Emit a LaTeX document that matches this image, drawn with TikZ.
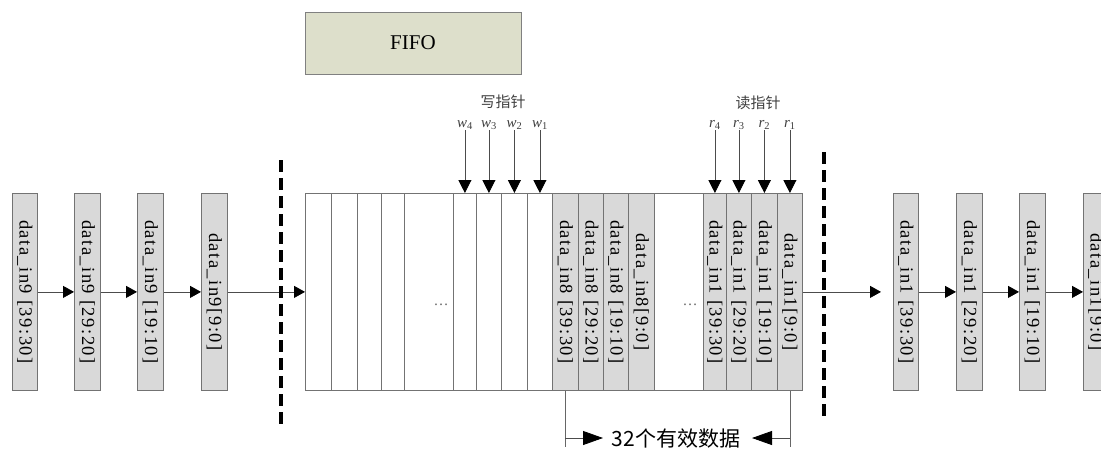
\documentclass[tikz,border=0pt]{standalone}
\usepackage{fontspec}
\usepackage{graphicx}
\setmainfont{Liberation Serif}
\newfontfamily\cjk{Noto Sans CJK SC}
\newfontfamily\cellfont{Liberation Serif}[LetterSpace=8]
\usetikzlibrary{arrows.meta}
\newcommand\vt[1]{\rotatebox{-90}{\cellfont\fontsize{18.5}{18.5}\selectfont #1}}
\newcommand\cellnode[5]{\node[#4, minimum width={(#3-#2)*1pt}] (#1) at (#2,193) {#5};}
\begin{document}
\begin{tikzpicture}[x=1pt,y=-1pt,
  cellbase/.style={draw=black!55, line width=0.8pt, inner sep=0pt, minimum height=197pt, anchor=north west},
  gcell/.style={cellbase, fill=gray!30},
  wcell/.style={cellbase, fill=white},
  conn/.style={draw=black!70, line width=0.8pt, -{Triangle[length=11pt,width=12pt,color=black]}},
  ptr/.style={draw=black!70, line width=0.8pt, -{Triangle[length=13pt,width=13pt,color=black]}},
  big/.style={draw=black!70, line width=0.8pt, -{Triangle[length=20pt,width=14pt,color=black]}},
  thinline/.style={draw=black!60, line width=0.8pt},
  dashline/.style={draw=black, line width=3.2pt, dash pattern=on 12pt off 6pt},
  plabel/.style={inner sep=0pt, font=\fontsize{15}{15}\selectfont\itshape, text=black!75},
  ptitle/.style={inner sep=0pt, font=\cjk\fontsize{15}{15}\selectfont, text=black!75},
  dots/.style={inner sep=0pt, font=\fontsize{15}{15}\selectfont, text=black!60}
]
\useasboundingbox (0,0) rectangle (1101,448);

% FIFO title
\node[draw=black!50, line width=0.8pt, fill={rgb,255:red,221;green,223;blue,203}, minimum width=216pt, minimum height=62pt, inner sep=0pt, font=\fontsize{21}{21}\selectfont] (fifo) at (413,43) {FIFO};

% left input boxes
\cellnode{L1}{12}{37}{gcell}{\vt{data\_in9 [39:30]}}
\cellnode{L2}{74}{100}{gcell}{\vt{data\_in9 [29:20]}}
\cellnode{L3}{137}{163}{gcell}{\vt{data\_in9 [19:10]}}
\cellnode{L4}{201}{227}{gcell}{\vt{data\_in9[9:0]}}

% FIFO cells
\cellnode{F1}{305}{331}{wcell}{}
\cellnode{F2}{331}{357}{wcell}{}
\cellnode{F3}{357}{381}{wcell}{}
\cellnode{F4}{381}{404}{wcell}{}
\cellnode{F5}{404}{453}{wcell}{}
\cellnode{F6}{453}{476}{wcell}{}
\cellnode{F7}{476}{501}{wcell}{}
\cellnode{F8}{501}{527}{wcell}{}
\cellnode{F9}{527}{552}{wcell}{}
\cellnode{G1}{552}{578}{gcell}{\vt{data\_in8 [39:30]}}
\cellnode{G2}{578}{603}{gcell}{\vt{data\_in8 [29:20]}}
\cellnode{G3}{603}{628}{gcell}{\vt{data\_in8 [19:10]}}
\cellnode{G4}{628}{654}{gcell}{\vt{data\_in8[9:0]}}
\cellnode{F10}{654}{703}{wcell}{}
\cellnode{G5}{703}{726}{gcell}{\vt{data\_in1 [39:30]}}
\cellnode{G6}{726}{751}{gcell}{\vt{data\_in1 [29:20]}}
\cellnode{G7}{751}{777}{gcell}{\vt{data\_in1 [19:10]}}
\cellnode{G8}{777}{802}{gcell}{\vt{data\_in1[9:0]}}

\node[dots] (dA) at (441,305) {\ldots};
\node[dots] (dB) at (690,305) {\ldots};

% right output boxes
\cellnode{R1}{893}{918}{gcell}{\vt{data\_in1 [39:30]}}
\cellnode{R2}{956}{982}{gcell}{\vt{data\_in1 [29:20]}}
\cellnode{R3}{1019}{1045}{gcell}{\vt{data\_in1 [19:10]}}
\cellnode{R4}{1083}{1108}{gcell}{\vt{data\_in1[9:0]}}

% chain arrows
\draw[conn] (L1) -- (L2);
\draw[conn] (L2) -- (L3);
\draw[conn] (L3) -- (L4);
\draw[conn] (L4) -- (F1);
\draw[conn, shorten >=12pt] (G8) -- (R1);
\draw[conn] (R1) -- (R2);
\draw[conn] (R2) -- (R3);
\draw[conn] (R3) -- (R4);

% dashed separators
\coordinate (d1t) at (281,160);
\coordinate (d1b) at (281,427);
\coordinate (d2t) at (824,152);
\coordinate (d2b) at (824,416);
\draw[dashline] (d1t) -- (d1b);
\draw[dashline] (d2t) -- (d2b);

% pointers
\coordinate (yl) at (0,123);
\node[ptitle] (wt) at (503,102) {写指针};
\node[ptitle] (rt) at (758,103) {读指针};
\node[plabel, anchor=base] (w4) at ([yshift=-4pt]F6.north |- yl) {w\textsubscript{\upshape 4}};
\node[plabel, anchor=base] (w3) at ([yshift=-4pt]F7.north |- yl) {w\textsubscript{\upshape 3}};
\node[plabel, anchor=base] (w2) at ([yshift=-4pt]F8.north |- yl) {w\textsubscript{\upshape 2}};
\node[plabel, anchor=base] (w1) at ([yshift=-4pt]F9.north |- yl) {w\textsubscript{\upshape 1}};
\node[plabel, anchor=base] (r4) at ([yshift=-4pt]G5.north |- yl) {r\textsubscript{\upshape 4}};
\node[plabel, anchor=base] (r3) at ([yshift=-4pt]G6.north |- yl) {r\textsubscript{\upshape 3}};
\node[plabel, anchor=base] (r2) at ([yshift=-4pt]G7.north |- yl) {r\textsubscript{\upshape 2}};
\node[plabel, anchor=base] (r1) at ([yshift=-4pt]G8.north |- yl) {r\textsubscript{\upshape 1}};
\coordinate (ys) at (0,130);
\foreach \c in {F6,F7,F8,F9,G5,G6,G7,G8}
  \draw[ptr] (\c.north |- ys) -- (\c.north);

% valid data span
\coordinate (yb) at (0,438);
\coordinate (ybot) at (0,447);
\draw[thinline] (G1.south) -- (G1.south |- ybot);
\draw[thinline] (G8.south) -- (G8.south |- ybot);
\node[inner sep=0pt, font=\cjk\fontsize{21}{21}\selectfont] (cnt) at (676,439) {32个有效数据};
\coordinate (ta) at (603,438);
\coordinate (tb) at (752,438);
\draw[big] (G1.south |- yb) -- (ta);
\draw[big] (G8.south |- yb) -- (tb);
\end{tikzpicture}
\end{document}
